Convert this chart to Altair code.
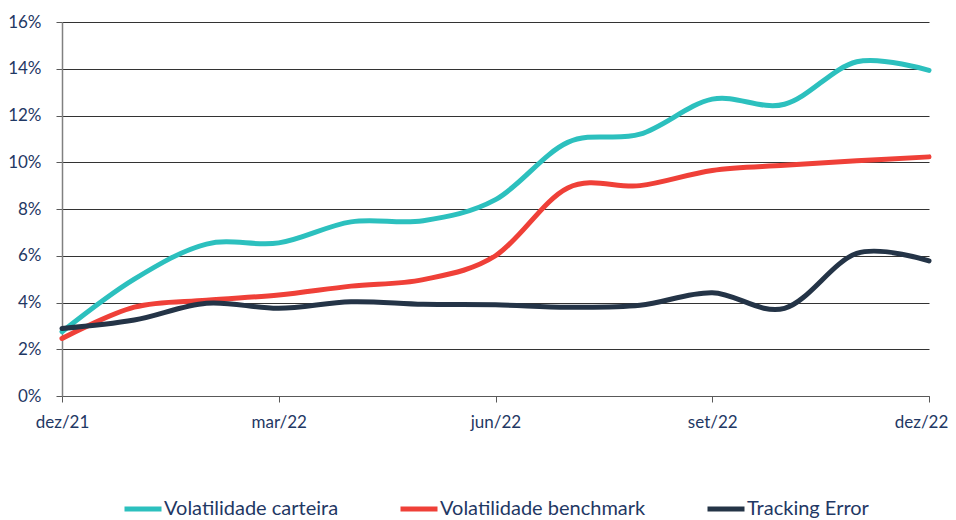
import altair as alt
import pandas as pd

months = list(range(13))
tick_labels = ["dez/21", "mar/22", "jun/22", "set/22", "dez/22"]
series_names = ["Volatilidade carteira", "Volatilidade benchmark", "Tracking Error"]
carteira = [2.75, 5.0, 6.5, 6.55, 7.45, 7.5, 8.4, 10.85, 11.2, 12.7, 12.48, 14.3, 13.93]
benchmark = [2.46, 3.8, 4.1, 4.32, 4.7, 4.98, 6.0, 8.9, 9.0, 9.65, 9.87, 10.06, 10.23]
tracking = [2.89, 3.25, 3.97, 3.75, 4.03, 3.92, 3.9, 3.8, 3.88, 4.42, 3.75, 6.1, 5.78]
colors = ["#2CC0BE", "#EF4038", "#243447"]

rows = []
for name, vals in zip(series_names, [carteira, benchmark, tracking]):
    for m, v in zip(months, vals):
        rows.append({"m": m, "v": v / 100, "s": name})
df = pd.DataFrame(rows)

lbl_arr = "[" + ",".join("'" + t + "'" for t in tick_labels) + "]"
txt = "#1F3864"
font = "Lato"
fs = 17

chart = alt.Chart(df).mark_line(
    interpolate="cardinal", strokeWidth=5, strokeCap="round"
).encode(
    x=alt.X("m:Q", scale=alt.Scale(domain=[0, 12], nice=False, zero=False),
            axis=alt.Axis(values=[0, 3, 6, 9, 12], labelExpr=lbl_arr + "[round(datum.value/3)]",
                          title=None, grid=False, domainColor="#595959", tickColor="#595959",
                          tickSize=6, labelPadding=12, labelColor=txt, labelFontSize=fs,
                          labelFont=font, labelFlush=False,
                          labelOffset={"condition": {"test": "datum.value == 12", "value": -8},
                                       "value": 0})),
    y=alt.Y("v:Q", scale=alt.Scale(domain=[0, 0.16], nice=False),
            axis=alt.Axis(values=[0, 0.02, 0.04, 0.06, 0.08, 0.1, 0.12, 0.14, 0.16], format=".0%",
                          title=None, grid=True, gridColor="#333333", gridWidth=1,
                          domainColor="#808080", domainWidth=1.5, tickColor="#595959", tickSize=6,
                          labelPadding=15, labelColor=txt, labelFontSize=fs, labelFont=font)),
    color=alt.Color("s:N", scale=alt.Scale(domain=series_names, range=colors),
                    legend=alt.Legend(title=None, orient="none", direction="horizontal",
                                      legendX=60, legendY=466, symbolType="stroke",
                                      symbolSize=1369, symbolStrokeWidth=5, labelOffset=0,
                                      columnPadding=51, labelFontSize=20, labelFont=font,
                                      labelColor=txt, labelLimit=400)),
).properties(
    width=867, height=374,
    autosize=alt.AutoSizeParams(type="none"),
    padding={"left": 54, "top": 14, "right": 19, "bottom": 124},
).configure_view(stroke=None)

chart.save("out.html", embed_options={"renderer": "svg", "actions": False})
